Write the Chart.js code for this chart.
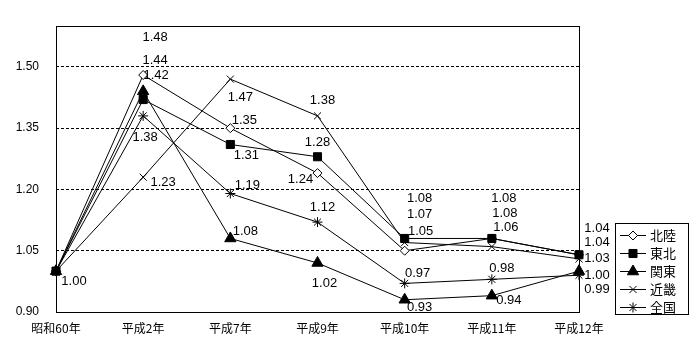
<!DOCTYPE html>
<html><head><meta charset="utf-8">
<script src="https://cdn.jsdelivr.net/npm/chart.js@4/dist/chart.umd.min.js"></script>
<style>html,body{margin:0;padding:0;background:#fff}#wrap{width:700px;height:360px}</style>
</head><body><div id="wrap"><canvas id="c" width="700" height="360"></canvas></div>
<script>
const categories = ['昭和60年','平成2年','平成7年','平成9年','平成10年','平成11年','平成12年'];
const seriesNames = ['北陸','東北','関東','近畿','全国'];
const hokuriku = [1.00,1.48,1.35,1.24,1.05,1.08,1.04];
const tohoku   = [1.00,1.42,1.31,1.28,1.08,1.08,1.04];
const kanto    = [1.00,1.44,1.08,1.02,0.93,0.94,1.00];
const kinki    = [1.00,1.23,1.47,1.38,1.07,1.06,1.03];
const zenkoku  = [1.00,1.38,1.19,1.12,0.97,0.98,0.99];
const yTicks = [0.90,1.05,1.20,1.35,1.50];

// data-label offsets in px relative to each point (null = no label)
const labelOffsets = [
  [null,[12,-38],[14,-8],[-17,6],[16,-19],[13,-25],[18,-26]],
  [[18,10],[13,-24],[16,11],[0,-14],[15,-40],[12,-40],[18,-12]],
  [null,[12,-31],[15,-7],[7,20],[15,8],[17,5],[18,4]],
  [null,[20,5],[10,18],[5,-15],[15,-28],[14,-19],[18,0]],
  [null,[2,22],[17,-8],[5,-15],[13,-10],[10,-11],[18,14]]
];

const seriesData = [hokuriku, tohoku, kanto, kinki, zenkoku];
const styles = [
  {pointStyle:'rectRot', radius:4.5, bg:'#fff', order:0},
  {pointStyle:'rect', radius:5.7, bg:'#000', order:-2},
  {pointStyle:'triangle', radius:6.5, bg:'#000', order:-1},
  {pointStyle:'crossRot', radius:5, bg:'#000', order:0},
  {pointStyle:'star', radius:5, bg:'#000', order:0}
];

const datasets = seriesNames.map((n,i)=>({
  label:n,
  data:seriesData[i],
  order:styles[i].order,
  borderColor:'#000',
  borderWidth:1,
  backgroundColor:styles[i].bg,
  pointStyle:styles[i].pointStyle,
  pointRadius:styles[i].radius,
  pointHoverRadius:styles[i].radius,
  pointBackgroundColor:styles[i].bg,
  pointBorderColor:'#000',
  pointBorderWidth:1,
  tension:0,
  fill:false
}));

const framePlugin = {
  id:'frame',
  beforeDatasetsDraw(chart){
    const {ctx, chartArea:a} = chart;
    ctx.save();
    ctx.strokeStyle='#000'; ctx.lineWidth=1;
    const l=Math.round(a.left)+0.5, r=Math.round(a.right)+0.5, t=Math.round(a.top)+0.5, b=Math.round(a.bottom)+0.5;
    ctx.strokeRect(l,t,r-l,b-t);
    ctx.restore();
  }
};

const labelPlugin = {
  id:'vals',
  afterDatasetsDraw(chart){
    const ctx = chart.ctx;
    ctx.save();
    ctx.font = "13px 'Liberation Sans'";
    ctx.fillStyle = '#000';
    ctx.textAlign = 'center';
    ctx.textBaseline = 'middle';
    chart.data.datasets.forEach((ds,di)=>{
      const meta = chart.getDatasetMeta(di);
      meta.data.forEach((pt,i)=>{
        const off = labelOffsets[di][i];
        if(!off) return;
        ctx.fillText(Number(ds.data[i]).toFixed(2), pt.x+off[0], pt.y+off[1]);
      });
    });
    ctx.restore();
  }
};

const legendPlugin = {
  id:'myLegend',
  afterDraw(chart){
    const ctx = chart.ctx;
    const bx=615.5, by=223.5, bw=73, bh=91;
    ctx.save();
    ctx.fillStyle='#fff'; ctx.fillRect(bx,by,bw,bh);
    ctx.strokeStyle='#000'; ctx.lineWidth=1; ctx.strokeRect(bx,by,bw,bh);
    ctx.font = "13px 'Noto Sans CJK JP'";
    ctx.textAlign='left'; ctx.textBaseline='middle';
    chart.data.datasets.forEach((ds,i)=>{
      const y = 235.5 + i*18;
      ctx.strokeStyle='#000'; ctx.lineWidth=1;
      ctx.beginPath(); ctx.moveTo(620,y); ctx.lineTo(646,y); ctx.stroke();
      const opts = {pointStyle:ds.pointStyle, radius:ds.pointRadius, rotation:0, borderWidth:1};
      ctx.fillStyle = ds.pointBackgroundColor; ctx.strokeStyle='#000';
      if (Chart.helpers && Chart.helpers.drawPoint) Chart.helpers.drawPoint(ctx, opts, 633, y);
      ctx.fillStyle='#000';
      ctx.fillText(ds.label, 650, y);
    });
    ctx.restore();
  }
};

new Chart(document.getElementById('c'), {
  type:'line',
  data:{labels:categories, datasets},
  options:{
    responsive:false,
    animation:false,
    devicePixelRatio:1,
    layout:{padding:{top:26,right:121,left:0,bottom:0}},
    plugins:{legend:{display:false}, tooltip:{enabled:false}},
    scales:{
      x:{
        type:'category',
        offset:false,
        grid:{display:false, drawTicks:false},
        border:{display:false},
        ticks:{color:'#000', font:{family:"'Noto Sans CJK JP'", size:12}, padding:9, maxRotation:0, autoSkip:false},
        afterFit(s){ s.height = 48; }
      },
      y:{
        type:'linear',
        min:0.9, max:1.6,
        afterBuildTicks(s){ s.ticks = yTicks.map(v=>({value:v})); },
        grid:{
          drawTicks:false,
          lineWidth:1,
          color:(c)=> (c.tick && Math.abs(c.tick.value-0.9)<1e-6) ? 'rgba(0,0,0,0)' : '#000'
        },
        border:{display:false, dash:[3,2]},
        ticks:{color:'#000', font:{family:"'Liberation Sans'", size:12}, padding:17, callback:(v)=>Number(v).toFixed(2)},
        afterFit(s){ s.width = 56; }
      }
    }
  },
  plugins:[framePlugin, labelPlugin, legendPlugin]
});
</script>
</body></html>
